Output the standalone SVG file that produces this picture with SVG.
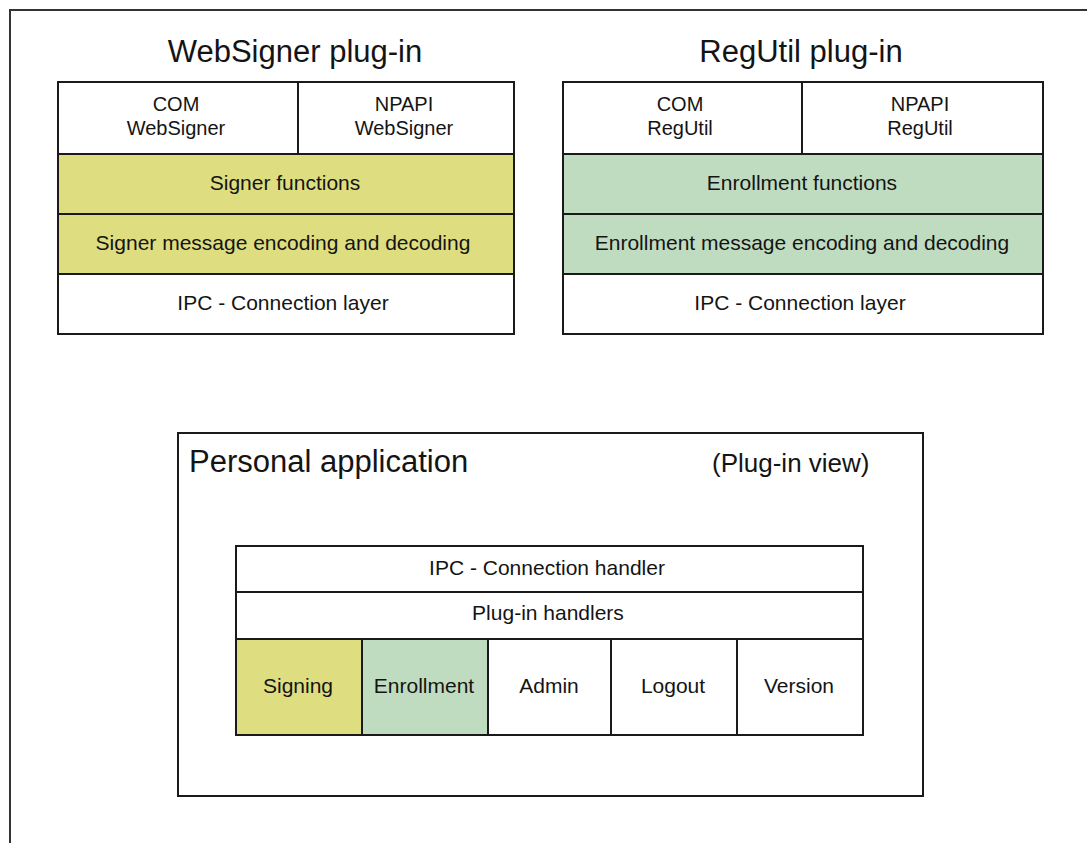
<svg xmlns="http://www.w3.org/2000/svg" width="1087" height="843" viewBox="0 0 1087 843">
  <style>
    .frame { fill: none; stroke: #333333; stroke-width: 2; }
    .cell { stroke: #1a1a1a; stroke-width: 2; }
    .white { fill: #ffffff; }
    .sign { fill: #dede80; }
    .enrol { fill: #c0dcc0; }
    .line { stroke: #1a1a1a; stroke-width: 2; fill: none; }
    text { font-family: "Liberation Sans", Arial, sans-serif; fill: #141414; }
    .title { font-size: 31px; text-anchor: middle; }
    .lbl { font-size: 21px; text-anchor: middle; }
    .small { font-size: 20px; text-anchor: middle; }
  </style>

  <rect width="1087" height="843" fill="#ffffff"/>

  <!-- page frame, open on the right and bottom -->
  <path class="frame" d="M10,843 V10 H1087"/>

  <!-- WebSigner plug-in stack -->
  <g id="websigner">
    <text class="title" x="295" y="62">WebSigner plug-in</text>
    <rect class="cell white" x="58" y="82" width="456" height="72"/>
    <line class="line" x1="298" y1="82" x2="298" y2="154"/>
    <text class="small" x="176" y="111">COM</text>
    <text class="small" x="176" y="135">WebSigner</text>
    <text class="small" x="404" y="111">NPAPI</text>
    <text class="small" x="404" y="135">WebSigner</text>
    <rect class="cell sign" x="58" y="154" width="456" height="60"/>
    <text class="lbl" x="285" y="190">Signer functions</text>
    <rect class="cell sign" x="58" y="214" width="456" height="60"/>
    <text class="lbl" x="283" y="250">Signer message encoding and decoding</text>
    <rect class="cell white" x="58" y="274" width="456" height="60"/>
    <text class="lbl" x="283" y="310">IPC - Connection layer</text>
  </g>

  <!-- RegUtil plug-in stack -->
  <g id="regutil">
    <text class="title" x="801" y="62">RegUtil plug-in</text>
    <rect class="cell white" x="563" y="82" width="480" height="72"/>
    <line class="line" x1="802" y1="82" x2="802" y2="154"/>
    <text class="small" x="680" y="111">COM</text>
    <text class="small" x="680" y="135">RegUtil</text>
    <text class="small" x="920" y="111">NPAPI</text>
    <text class="small" x="920" y="135">RegUtil</text>
    <rect class="cell enrol" x="563" y="154" width="480" height="60"/>
    <text class="lbl" x="802" y="190">Enrollment functions</text>
    <rect class="cell enrol" x="563" y="214" width="480" height="60"/>
    <text class="lbl" x="802" y="250">Enrollment message encoding and decoding</text>
    <rect class="cell white" x="563" y="274" width="480" height="60"/>
    <text class="lbl" x="800" y="310">IPC - Connection layer</text>
  </g>

  <!-- Personal application, plug-in view -->
  <g id="personal-app">
    <rect class="cell white" x="178" y="433" width="745" height="363"/>
    <text x="189" y="472" font-size="31">Personal application</text>
    <text x="712" y="472" font-size="26">(Plug-in view)</text>
  </g>

  <g id="ipc-handler">
    <rect class="cell white" x="236" y="546" width="627" height="46"/>
    <text class="lbl" x="547" y="575">IPC - Connection handler</text>
  </g>

  <g id="plugin-handlers">
    <rect class="cell white" x="236" y="592" width="627" height="47"/>
    <text class="lbl" x="548" y="620">Plug-in handlers</text>
  </g>

  <g id="signing">
    <rect class="cell sign" x="236" y="639" width="126" height="96"/>
    <text class="lbl" x="298" y="693">Signing</text>
  </g>
  <g id="enrollment">
    <rect class="cell enrol" x="362" y="639" width="126" height="96"/>
    <text class="lbl" x="424" y="693">Enrollment</text>
  </g>
  <g id="admin">
    <rect class="cell white" x="488" y="639" width="123" height="96"/>
    <text class="lbl" x="549" y="693">Admin</text>
  </g>
  <g id="logout">
    <rect class="cell white" x="611" y="639" width="126" height="96"/>
    <text class="lbl" x="673" y="693">Logout</text>
  </g>
  <g id="version">
    <rect class="cell white" x="737" y="639" width="126" height="96"/>
    <text class="lbl" x="799" y="693">Version</text>
  </g>

  <!-- no connectors in this layered view -->
  <g id="connectors"/>
</svg>
